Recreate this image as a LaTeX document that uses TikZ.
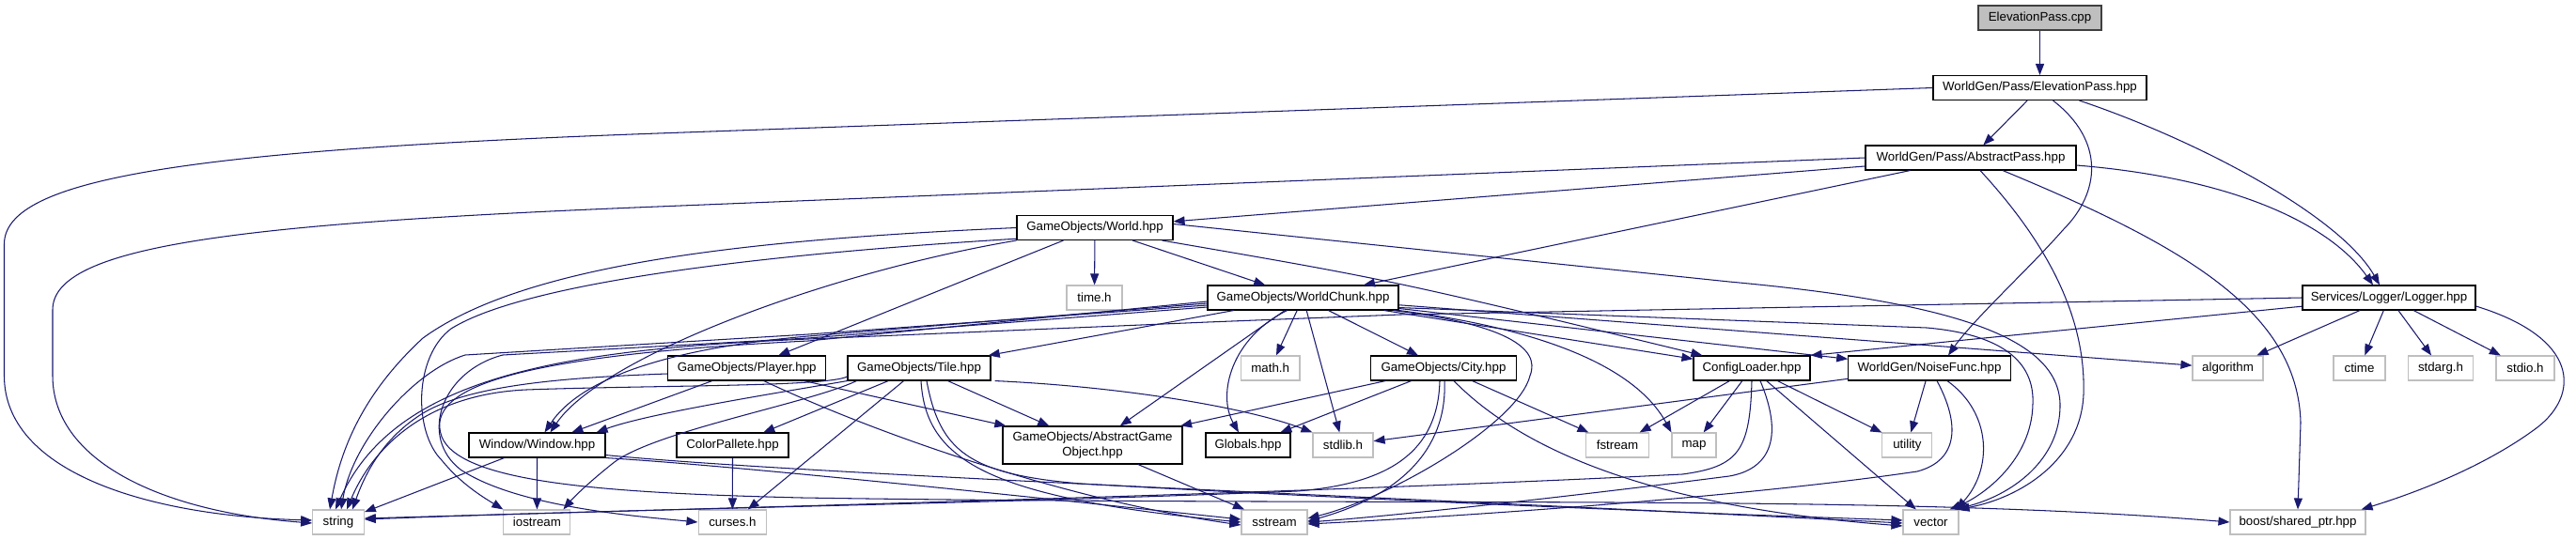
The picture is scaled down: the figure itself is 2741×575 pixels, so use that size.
\documentclass[tikz,border=0pt]{standalone}
\usepackage{fontspec}
\setmainfont{Liberation Sans}
\usetikzlibrary{arrows.meta}
\definecolor{edgec}{HTML}{191970}
\definecolor{extc}{HTML}{BFBFBF}
\definecolor{rootc}{HTML}{BFBFBF}
\newcommand{\dgfont}{\fontsize{13.3}{15.5}\selectfont}
\tikzset{
  nd/.style={draw=black, line width=1.1pt, fill=white, inner sep=0pt, minimum height=26pt, font=\dgfont, text=black},
  ext/.style={nd, draw=extc},
  e/.style={draw=edgec, line width=1.05pt, -{Triangle[length=12pt,width=9pt]}}
}
\begin{document}
\begin{tikzpicture}[x=1pt,y=-1pt]
\fill[white] (0,0) rectangle (2741,575);
\useasboundingbox (0,0) rectangle (2741,575);

% nodes
\node[nd, fill=rootc, draw=black!75, minimum width=131pt] (cpp) at (2170.5,19) {ElevationPass.cpp};
\node[nd, minimum width=227pt] (ehpp) at (2170.5,93.5) {WorldGen/Pass/ElevationPass.hpp};
\node[nd, minimum width=224pt] (apass) at (2097,168) {WorldGen/Pass/AbstractPass.hpp};
\node[nd, minimum width=166pt] (world) at (1165,242.5) {GameObjects/World.hpp};
\node[nd, minimum width=184pt] (logger) at (2542,317) {Services/Logger/Logger.hpp};
\node[ext, minimum width=59pt] (timeh) at (1164.5,317) {time.h};
\node[nd, minimum width=203pt] (chunk) at (1386.5,317) {GameObjects/WorldChunk.hpp};
\node[nd, minimum width=168pt] (player) at (794.7,392) {GameObjects/Player.hpp};
\node[nd, minimum width=152pt] (tile) at (978,392) {GameObjects/Tile.hpp};
\node[ext, minimum width=62.5pt] (mathh) at (1351.7,392) {math.h};
\node[nd, minimum width=155pt] (city) at (1536,392) {GameObjects/City.hpp};
\node[nd, minimum width=124pt] (config) at (1864,392) {ConfigLoader.hpp};
\node[nd, minimum width=172.5pt] (noise) at (2053,392) {WorldGen/NoiseFunc.hpp};
\node[ext, minimum width=75pt] (algo) at (2370.5,392) {algorithm};
\node[ext, minimum width=55pt] (ctimeh) at (2510.5,392) {ctime};
\node[ext, minimum width=69pt] (stdarg) at (2597,392) {stdarg.h};
\node[ext, minimum width=62pt] (stdio) at (2687,392) {stdio.h};
\node[nd, minimum width=145pt] (window) at (571.5,474) {Window/Window.hpp};
\node[nd, minimum width=119pt] (color) at (779.5,474) {ColorPallete.hpp};
\node[nd, minimum width=191pt, minimum height=40pt, align=center] (ago) at (1162.5,474) {GameObjects/AbstractGame\\Object.hpp};
\node[nd, minimum width=90pt] (globals) at (1328,474) {Globals.hpp};
\node[ext, minimum width=64pt] (stdlib) at (1429,474) {stdlib.h};
\node[ext, minimum width=66.5pt] (fstream) at (1721,474) {fstream};
\node[ext, minimum width=47pt] (mapn) at (1802.5,474) {map};
\node[ext, minimum width=53pt] (utility) at (2029.4,474) {utility};
\node[ext, minimum width=54.6pt] (string) at (360,556) {string};
\node[ext, minimum width=71pt] (iostream) at (571.4,556) {iostream};
\node[ext, minimum width=72.7pt] (curses) at (779.4,556) {curses.h};
\node[ext, minimum width=70pt] (sstream) at (1356,556) {sstream};
\node[ext, minimum width=59pt] (vector) at (2054.5,556) {vector};
\node[ext, minimum width=144pt] (boost) at (2445,556) {boost/shared\_ptr.hpp};

% straight edges
\draw[e] (cpp) -- (ehpp);
\draw[e] (ehpp) -- (apass);
\draw[e] (apass) -- (world);
\draw[e] (apass) -- (chunk);
\draw[e] (world) -- (timeh);
\draw[e] (world) -- (chunk);
\draw[e] (world) -- (player);
\draw[e] (logger) -- (algo);
\draw[e] (logger) -- (ctimeh);
\draw[e] (logger) -- (stdarg);
\draw[e] (logger) -- (stdio);
\draw[e] (logger) -- (config.north east);
\draw[e] (chunk) -- (tile);
\draw[e] (chunk) -- (ago);
\draw[e] (chunk) -- (mathh);
\draw[e] (chunk) -- (stdlib);
\draw[e] (chunk) -- (city);
\draw[e] (chunk) -- (config);
\draw[e] (chunk) -- (noise);
\draw[e] (chunk) -- (algo);
\draw[e] (player) -- (window);
\draw[e] (player) -- (ago);
\draw[e] (tile) -- (color);
\draw[e] (tile) -- (curses);
\draw[e] (tile) -- (ago);
\draw[e] (window) -- (string);
\draw[e] (window) -- (iostream);
\draw[e] (color) -- (curses);
\draw[e] (ago) -- (sstream);
\draw[e] (city) -- (ago);
\draw[e] (city) -- (globals);
\draw[e] (city) -- (fstream);
\draw[e] (config) -- (fstream);
\draw[e] (config) -- (mapn);
\draw[e] (config) -- (utility);
\draw[e] (config) -- (vector);
\draw[e] (noise) -- (utility);
\draw[e] (noise) -- (stdlib);

% curved edges from the top
\draw[e] (ehpp.west) -- (700,142) .. controls (200,160) and (4.5,190) .. (4.5,260) -- (4.5,400) .. controls (4.5,500) and (150,549) .. ([yshift=2pt]string.west);
\draw[e] (apass.west) -- (700,220) .. controls (250,238) and (56,262) .. (56,330) -- (56,400) .. controls (56,490) and (170,545) .. ([yshift=-1pt]string.west);
\draw[e] ([xshift=14pt]ehpp.south) .. controls (2240,150) and (2235,205) .. (2195,245) .. controls (2160,285) and (2100,340) .. ([xshift=20pt]noise.north);
\draw[e] ([xshift=42pt]ehpp.south) .. controls (2340,150) and (2490,230) .. ([xshift=-10pt]logger.north);
\draw[e] ([yshift=-8pt]apass.east) .. controls (2380,190) and (2480,240) .. ([xshift=-17pt]logger.north);
\draw[e] ([xshift=10pt]apass.south) .. controls (2170,250) and (2220,330) .. (2217,420) .. controls (2214,490) and (2150,530) .. ([xshift=-1pt]vector.north east);
\draw[e] ([xshift=34pt]apass.south) .. controls (2320,260) and (2445,330) .. (2448,450) -- (boost.north);
\draw[e] ([yshift=-9pt]logger.east) .. controls (2745,360) and (2745,420) .. (2700,455) .. controls (2640,500) and (2560,528) .. ([xshift=-5pt]boost.north east);
\draw[e] (logger.west) -- (1490,335) -- (1285,343) -- (860,361) .. controls (600,372) and (420,400) .. ([xshift=-3pt]string.north);

% World
\draw[e] (world.west) .. controls (800,255) and (560,280) .. (450,360) .. controls (385,420) and (362,480) .. ([xshift=-9pt]string.north);
\draw[e] (world.-172) .. controls (820,270) and (560,300) .. (480,350) .. controls (440,380) and (440,460) .. (470,490) .. controls (490,515) and (515,530) .. (iostream.north west);
\draw[e] (world.south west) .. controls (880,290) and (640,380) .. ([xshift=14pt]window.north);
\draw[e] ([yshift=4pt]world.east) -- (1840,300) .. controls (2080,322) and (2190,360) .. (2192,430) .. controls (2193,490) and (2140,528) .. ([xshift=-5pt]vector.north east);
\draw[e] ([xshift=-12pt]world.south east) .. controls (1480,298) .. ([xshift=10pt]config.north west);

% WorldChunk
\draw[e] ([xshift=-17pt]chunk.south) .. controls (1310,360) and (1295,420) .. ([xshift=-10pt]globals.north);
\draw[e] ([yshift=3pt]chunk.south east) -- (2050,349) .. controls (2130,356) and (2165,385) .. (2163,430) .. controls (2162,490) and (2110,528) .. ([xshift=-10pt]vector.north east);
\draw[e] (chunk.south east) .. controls (1640,350) and (1740,390) .. (mapn.north west);
\draw[e] ([xshift=-6pt]chunk.south east) .. controls (1600,345) and (1640,370) .. (1628,400) .. controls (1616,450) and (1480,530) .. ([yshift=4pt]sstream.east);
\draw[e] ([yshift=-8pt]chunk.west) -- (860,356) -- (495,378) .. controls (440,395) and (375,470) .. ([xshift=3pt]string.north);
\draw[e] ([yshift=-6pt]chunk.west) -- (860,358) .. controls (720,370) and (620,400) .. ([xshift=8pt]window.north);
\draw[e] ([yshift=-10pt]chunk.west) -- (860,360) -- (535,378) .. controls (470,395) and (445,465) .. (490,500) .. controls (550,540) and (680,550) .. (curses.west);
\draw[e] ([yshift=-4pt]chunk.west) -- (860,363) .. controls (560,378) and (450,410) .. (470,465) .. controls (490,515) and (650,525) .. (853,530) .. controls (1500,540) and (2000,525) .. (boost.west);

% Player
\draw[e] ([yshift=-6pt]player.west) .. controls (600,402) and (500,410) .. (450,440) .. controls (410,465) and (390,500) .. ([xshift=15pt]string.north);
\draw[e] ([xshift=18pt]player.south) .. controls (950,470) and (1150,535) .. ([yshift=-3pt]sstream.west);

% Tile
\draw[e] ([yshift=-9pt]tile.west) .. controls (880,412) and (700,410) .. (560,415) .. controls (450,420) and (395,480) .. ([xshift=9pt]string.north);
\draw[e] (tile.south west) .. controls (830,418) and (690,440) .. ([xshift=-10pt]window.north east);
\draw[e] ([xshift=10pt]tile.south west) .. controls (860,430) and (690,460) .. (650,495) .. controls (625,515) and (610,530) .. ([xshift=-8pt]iostream.north east);
\draw[e] ([xshift=2pt]tile.south) .. controls (985,490) and (1050,530) .. (sstream.west);
\draw[e] ([xshift=8pt]tile.south) .. controls (1000,480) and (1030,505) .. (1150,515) .. controls (1500,535) and (1850,548) .. ([yshift=2pt]vector.west);
\draw[e] ([xshift=4pt]tile.south east) .. controls (1200,412) and (1330,435) .. (stdlib.north west);

% Window
\draw[e] (window.south east) .. controls (800,497) and (1150,535) .. ([yshift=3pt]sstream.west);
\draw[e] ([yshift=3pt]window.south east) .. controls (850,505) and (1500,530) .. ([yshift=-1pt]vector.west);

% City
\draw[e] ([xshift=1pt]city.south) .. controls (1540,470) and (1500,525) .. ([yshift=1pt]sstream.east);
\draw[e] ([xshift=-4pt]city.south) .. controls (1530,480) and (1480,515) .. (1380,523) .. controls (1000,538) and (700,541) .. ([yshift=3pt]string.east);
\draw[e] ([xshift=11pt]city.south) .. controls (1620,480) and (1760,540) .. ([yshift=-4pt]vector.west);

% ConfigLoader
\draw[e] (config.south) .. controls (1862,480) and (1850,497) .. (1790,505) .. controls (1400,525) and (800,540) .. ([yshift=4pt]string.east);
\draw[e] ([xshift=9pt]config.south) .. controls (1900,470) and (1880,500) .. (1840,507) .. controls (1700,525) and (1500,548) .. (sstream.east);

% NoiseFunc
\draw[e] ([xshift=8pt]noise.south) .. controls (2085,450) and (2085,490) .. (2040,502) .. controls (1850,530) and (1550,550) .. ([yshift=-2pt]sstream.east);
\draw[e] ([xshift=19pt]noise.south) .. controls (2120,440) and (2120,500) .. ([xshift=-3pt]vector.north east);
\end{tikzpicture}
\end{document}
